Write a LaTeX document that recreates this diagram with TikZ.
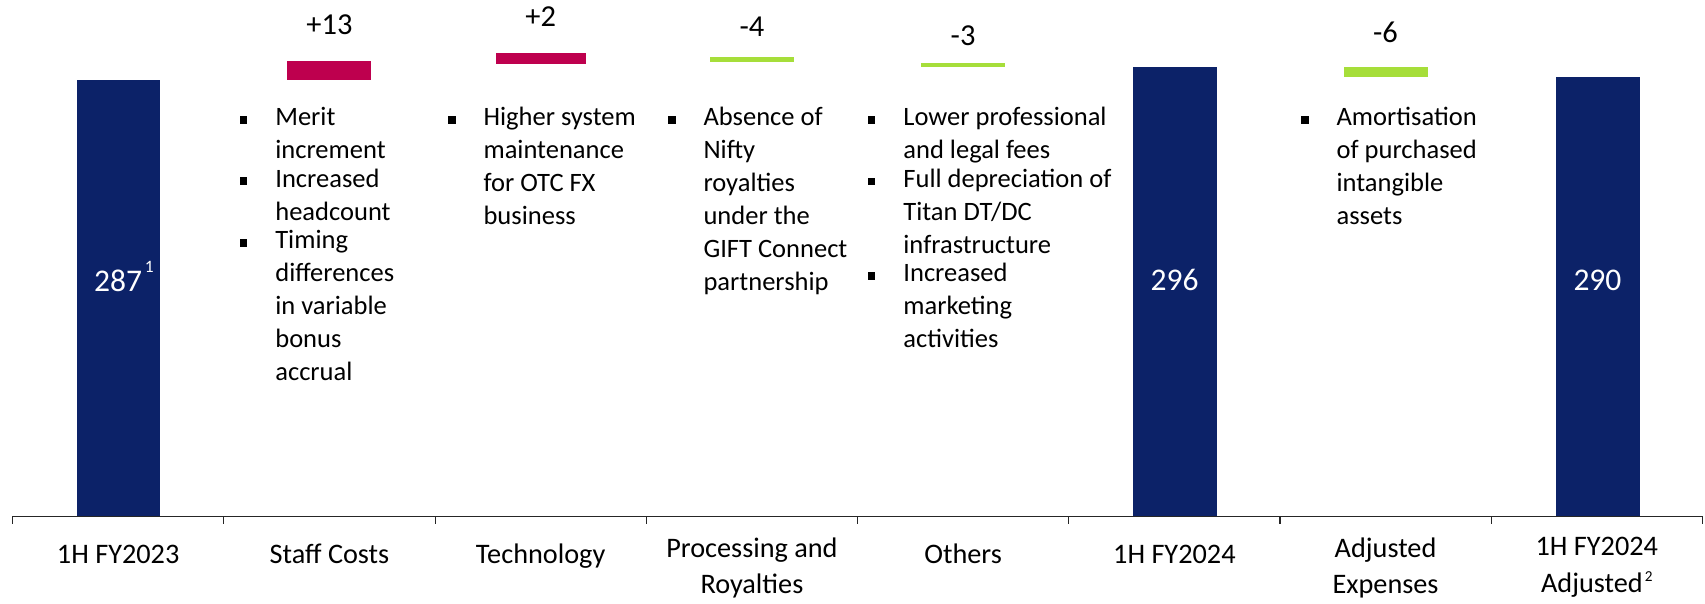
\documentclass[tikz,border=0pt]{standalone}
\usepackage{fontspec}
\setmainfont{Carlito}
\definecolor{barnavy}{HTML}{0C2268}
\definecolor{upred}{HTML}{BE004E}
\definecolor{downgreen}{HTML}{A6DE3A}
\tikzset{
  total/.style={fill=barnavy},
  rise/.style={fill=upred},
  fall/.style={fill=downgreen},
  axislbl/.style={anchor=north, align=center, inner sep=0pt, font=\fontsize{26}{33.6}\selectfont, execute at begin node=\strut},
  delta/.style={anchor=base, inner sep=0pt, font=\fontsize{28}{34}\selectfont},
  amount/.style={anchor=base, inner sep=0pt, text=white, font=\fontsize{29}{35}\selectfont},
  note/.style={anchor=north west, align=left, inner sep=0pt, font=\fontsize{24.4}{30.3}\selectfont, execute at begin node=\strut, execute at end node=\strut},
  sqmark/.style={fill=black, inner sep=0pt, minimum size=7pt}
}
\begin{document}
\begin{tikzpicture}[x=1pt,y=-1pt]
\useasboundingbox (0,0) rectangle (1568,555.4);
% Osa
\draw[line width=1pt, black!85] (11.6,474.6) -- (1565.7,474.6);
\foreach \i in {0,...,8}
  \draw[line width=1pt, black!85] (11.6+194.26*\i,474.6) -- ++(0,7);
% Sloupce
\fill[total] (70.4,73.6) rectangle (147.1,474.6);
\fill[rise] (264,56) rectangle (341.4,73.6);
\fill[rise] (455.8,49) rectangle (538.5,59);
\fill[fall] (653,52.7) rectangle (730.5,57.3);
\fill[fall] (847,57.7) rectangle (924,61.3);
\fill[total] (1041.8,62) rectangle (1118.8,474.6);
\fill[fall] (1236,62) rectangle (1313,70.6);
\fill[total] (1430.5,71) rectangle (1507.8,474.6);
% Hodnoty
\node[amount] (numA) at (108.7,268) {287\rlap{\hspace{2.5pt}\raisebox{17pt}{\fontsize{16}{16}\selectfont 1}}};
\node[amount] (numB) at (1080.3,267.5) {296};
\node[amount] (numC) at (1469.1,267.5) {290};
\node[delta] (dStaff) at (303,32) {+13};
\node[delta] (dTech) at (497.2,24) {+2};
\node[delta] (dProc) at (691.5,33.3) {-4};
\node[delta] (dOth) at (885.7,41.8) {-3};
\node[delta] (dAdj) at (1274.2,39.4) {-6};
% Popisky osy
\node[axislbl] (lA) at (108.7,494.2) {1H FY2023};
\node[axislbl] (lB) at (303,494.2) {Staff Costs};
\node[axislbl] (lC) at (497.2,494.2) {Technology};
\node[axislbl] (lD) at (691.5,494.2) {Processing and\\Royalties};
\node[axislbl] (lE) at (885.7,494.2) {Others};
\node[axislbl] (lF) at (1080,494.2) {1H FY2024};
\node[axislbl] (lG) at (1274.2,494.2) {Adjusted\\Expenses};
\node[axislbl] (lH) at (1468.5,494.2) {1H FY2024\\Adjusted\hspace{2pt}\raisebox{10pt}{\fontsize{14}{14}\selectfont 2}};
% Komentare
\node[note] (sA) at (253,98.4) {Merit\\increment};
\node[note] (sB) at (sA.south west) {Increased\\headcount};
\node[note] (sC) at (sB.south west) {Timing\\differences\\in variable\\bonus\\accrual};
\node[note] (tA) at (444.5,98.4) {Higher system\\maintenance\\for OTC FX\\business};
\node[note] (pA) at (646.8,98.4) {Absence of\\Nifty\\royalties\\under the\\GIFT Connect\\partnership};
\node[note] (oA) at (830.6,98.4) {Lower professional\\and legal fees};
\node[note] (oB) at (oA.south west) {Full depreciation of\\Titan DT/DC\\infrastructure};
\node[note] (oC) at (oB.south west) {Increased\\marketing\\activities};
\node[note] (aA) at (1229,98.4) {Amortisation\\of purchased\\intangible\\assets};
% Odrazky
\node[sqmark] (msA) at ([shift={(-29pt,-11.7pt)}]sA.north west) {};
\node[sqmark] (msB) at ([shift={(-29pt,-11.7pt)}]sB.north west) {};
\node[sqmark] (msC) at ([shift={(-29pt,-11.7pt)}]sC.north west) {};
\node[sqmark] (mtA) at ([shift={(-29pt,-11.7pt)}]tA.north west) {};
\node[sqmark] (mpA) at ([shift={(-29pt,-11.7pt)}]pA.north west) {};
\node[sqmark] (moA) at ([shift={(-29pt,-11.7pt)}]oA.north west) {};
\node[sqmark] (moB) at ([shift={(-29pt,-11.7pt)}]oB.north west) {};
\node[sqmark] (moC) at ([shift={(-29pt,-11.7pt)}]oC.north west) {};
\node[sqmark] (maA) at ([shift={(-29pt,-11.7pt)}]aA.north west) {};
\end{tikzpicture}
\end{document}
